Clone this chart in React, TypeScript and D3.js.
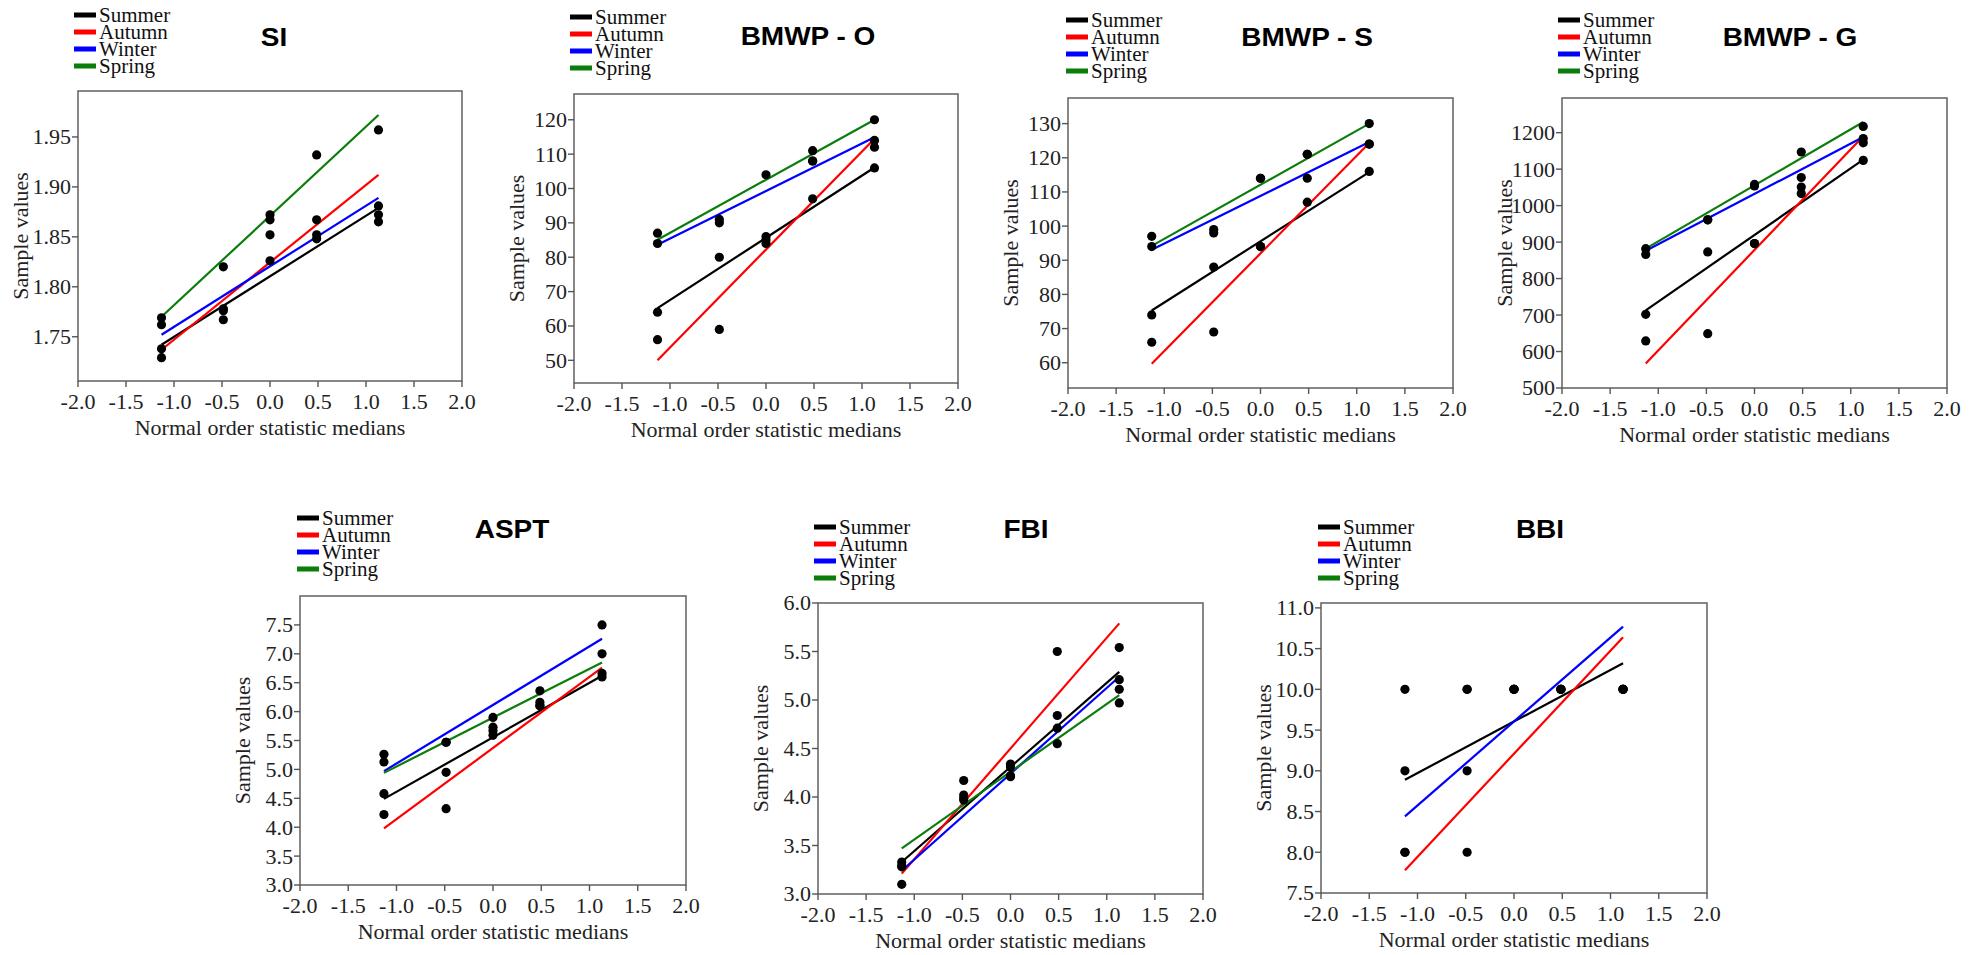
import React from "react";
import * as d3 from "d3";

// ---------- shared data ----------
const SEASONS = ["Summer", "Autumn", "Winter", "Spring"];
const SEASON_COLORS = ["#000000", "#ff0000", "#0000ff", "#0b7d0b"];
const X_MEDIANS = [-1.13, -0.486, 0, 0.486, 1.13];
const X_TICKS = [-2, -1.5, -1, -0.5, 0, 0.5, 1, 1.5, 2];

// ---------- SI ----------
const SI_Y_TICKS = [1.75, 1.8, 1.85, 1.9, 1.95];
const SI_POINTS = [
  [1.769, 1.762, 1.738, 1.729],
  [1.82, 1.778, 1.776, 1.767],
  [1.872, 1.867, 1.852, 1.826],
  [1.932, 1.867, 1.852, 1.848],
  [1.957, 1.881, 1.872, 1.865],
];
const SI_LINES = [[1.742, 1.879], [1.737, 1.912], [1.752, 1.889], [1.77, 1.972]];

// ---------- BMWP - O ----------
const BMWPO_Y_TICKS = [50, 60, 70, 80, 90, 100, 110, 120];
const BMWPO_POINTS = [
  [87, 84, 64, 56],
  [91, 90, 80, 59],
  [104, 86, 85, 84],
  [111, 108, 97, 108],
  [120, 114, 112, 106],
];
const BMWPO_LINES = [[65.2, 106.1], [50, 114.5], [83.6, 114.9], [85.1, 120]];

// ---------- BMWP - S ----------
const BMWPS_Y_TICKS = [60, 70, 80, 90, 100, 110, 120, 130];
const BMWPS_POINTS = [
  [97, 94, 74, 66],
  [99, 98, 88, 69],
  [114, 94, 94, 114],
  [121, 114, 107, 121],
  [130, 124, 116, 124],
];
const BMWPS_LINES = [[75.3, 115.8], [59.7, 124.3], [93.1, 124.6], [94.2, 130]];

// ---------- BMWP - G ----------
const BMWPG_Y_TICKS = [500, 600, 700, 800, 900, 1000, 1100, 1200];
const BMWPG_POINTS = [
  [882, 866, 702, 629],
  [961, 873, 649, 961],
  [1058, 1054, 896, 896],
  [1147, 1077, 1051, 1033],
  [1217, 1184, 1172, 1124],
];
const BMWPG_LINES = [[713, 1126], [567, 1190], [876, 1188], [882, 1229]];

// ---------- ASPT ----------
const ASPT_Y_TICKS = [3.0, 3.5, 4.0, 4.5, 5.0, 5.5, 6.0, 6.5, 7.0, 7.5];
const ASPT_POINTS = [
  [5.26, 5.13, 4.58, 4.22],
  [5.47, 4.95, 4.32, 5.47],
  [5.9, 5.73, 5.67, 5.59],
  [6.36, 6.16, 6.1, 6.1],
  [7.5, 7.0, 6.66, 6.6],
];
const ASPT_LINES = [[4.49, 6.62], [3.98, 6.76], [4.97, 7.26], [4.94, 6.85]];

// ---------- FBI ----------
const FBI_Y_TICKS = [3.0, 3.5, 4.0, 4.5, 5.0, 5.5, 6.0];
const FBI_POINTS = [
  [3.33, 3.29, 3.28, 3.1],
  [4.17, 4.02, 3.99, 3.97],
  [4.34, 4.31, 4.22, 4.21],
  [5.5, 4.84, 4.71, 4.55],
  [5.54, 5.21, 5.11, 4.97],
];
const FBI_LINES = [[3.33, 5.29], [3.21, 5.79], [3.24, 5.24], [3.47, 5.05]];

// ---------- BBI ----------
const BBI_Y_TICKS = [7.5, 8.0, 8.5, 9.0, 9.5, 10.0, 10.5, 11.0];
const BBI_POINTS = [
  [10, 9, 8, 8],
  [10, 9, 8, 10],
  [10, 10, 10, 10],
  [10, 10, 10, 10],
  [10, 10, 10, 10],
];
const BBI_LINES = [[8.89, 10.32], [7.78, 10.64], [8.44, 10.77], null];

const PANELS = [
  { title: "SI", yTicks: SI_Y_TICKS, digits: 2, points: SI_POINTS, lines: SI_LINES, yDomain: [1.7057, 1.996] },
  { title: "BMWP - O", yTicks: BMWPO_Y_TICKS, digits: 0, points: BMWPO_POINTS, lines: BMWPO_LINES, yDomain: [43.4, 127.5] },
  { title: "BMWP - S", yTicks: BMWPS_Y_TICKS, digits: 0, points: BMWPS_POINTS, lines: BMWPS_LINES, yDomain: [52.6, 137.5] },
  { title: "BMWP - G", yTicks: BMWPG_Y_TICKS, digits: 0, points: BMWPG_POINTS, lines: BMWPG_LINES, yDomain: [500, 1295] },
  { title: "ASPT", yTicks: ASPT_Y_TICKS, digits: 1, points: ASPT_POINTS, lines: ASPT_LINES, yDomain: [3, 8] },
  { title: "FBI", yTicks: FBI_Y_TICKS, digits: 1, points: FBI_POINTS, lines: FBI_LINES, yDomain: [3, 6] },
  { title: "BBI", yTicks: BBI_Y_TICKS, digits: 1, points: BBI_POINTS, lines: BBI_LINES, yDomain: [7.5, 11.06] },
];

// layout (pixel positions of plot boxes, legends and titles)
const LAYOUT = [
  { x0: 78, x1: 462, y0: 91, y1: 381, lx: 74, ly: 15, tx: 274, ty: 46 },
  { x0: 574, x1: 958, y0: 94, y1: 383, lx: 570, ly: 17, tx: 808, ty: 45 },
  { x0: 1068, x1: 1453, y0: 98, y1: 388, lx: 1066, ly: 20, tx: 1307, ty: 46 },
  { x0: 1562, x1: 1947, y0: 98, y1: 388, lx: 1558, ly: 20, tx: 1790, ty: 46 },
  { x0: 300, x1: 686, y0: 596, y1: 885, lx: 297, ly: 518, tx: 512, ty: 538 },
  { x0: 818, x1: 1203, y0: 603, y1: 894, lx: 814, ly: 527, tx: 1026, ty: 538 },
  { x0: 1321, x1: 1707, y0: 603, y1: 893, lx: 1318, ly: 527, tx: 1540, ty: 538 },
];

const SERIF = "Liberation Serif, Times New Roman, Times, serif";
const SANS = "Liberation Sans, Arial, Helvetica, sans-serif";

const serif = (size: number) => ({ fontFamily: SERIF, fontSize: size + "px" });

function Panel({ p, L }: { p: any; L: any }) {
  const x = d3.scaleLinear().domain([-2, 2]).range([L.x0, L.x1]);
  const y = d3.scaleLinear().domain(p.yDomain).range([L.y1, L.y0]);
  const line = d3
    .line<number[]>()
    .x((d) => x(d[0]))
    .y((d) => y(d[1]));
  const xFirst = X_MEDIANS[0];
  const xLast = X_MEDIANS[X_MEDIANS.length - 1];
  const cx = (L.x0 + L.x1) / 2;
  const cy = (L.y0 + L.y1) / 2;
  return (
    <g>
      {/* legend */}
      {SEASONS.map((s, i) => (
        <g key={s}>
          <rect x={L.lx} y={L.ly + i * 17 - 2.5} width={22} height={5} fill={SEASON_COLORS[i]} />
          <text x={L.lx + 25} y={L.ly + i * 17 + 7} style={serif(21)} fill="#111">
            {s}
          </text>
        </g>
      ))}
      {/* title */}
      <text
        transform={`translate(${L.tx},${L.ty}) scale(1.12,1)`}
        textAnchor="middle"
        style={{ fontFamily: SANS, fontWeight: 700, fontSize: "25px" }}
        fill="#000"
      >
        {p.title}
      </text>
      {/* frame */}
      <rect x={L.x0} y={L.y0} width={L.x1 - L.x0} height={L.y1 - L.y0} fill="none" stroke="#6a6a6a" strokeWidth={1.6} />
      {/* x ticks */}
      {X_TICKS.map((t) => (
        <g key={"x" + t}>
          <line x1={x(t)} x2={x(t)} y1={L.y1} y2={L.y1 + 6} stroke="#555" strokeWidth={1.4} />
          <text x={x(t)} y={L.y1 + 28} textAnchor="middle" style={serif(22)} fill="#222">
            {t.toFixed(1)}
          </text>
        </g>
      ))}
      {/* y ticks */}
      {p.yTicks.map((t: number) => (
        <g key={"y" + t}>
          <line x1={L.x0 - 6} x2={L.x0} y1={y(t)} y2={y(t)} stroke="#555" strokeWidth={1.4} />
          <text x={L.x0 - 7} y={y(t)} dy="0.34em" textAnchor="end" style={serif(22)} fill="#222">
            {t.toFixed(p.digits)}
          </text>
        </g>
      ))}
      {/* axis titles */}
      <text x={cx} y={L.y1 + 54} textAnchor="middle" style={serif(22)} fill="#222">
        Normal order statistic medians
      </text>
      <text
        transform={`translate(${L.x0 - 50},${cy}) rotate(-90)`}
        textAnchor="middle"
        style={serif(22)}
        fill="#222"
      >
        Sample values
      </text>
      {/* fitted lines */}
      {p.lines.map((ln: number[] | null, i: number) =>
        ln ? (
          <path
            key={"l" + i}
            d={line([[xFirst, ln[0]], [xLast, ln[1]]]) || ""}
            fill="none"
            stroke={SEASON_COLORS[i]}
            strokeWidth={2.2}
          />
        ) : null
      )}
      {/* points */}
      {p.points.map((vals: number[], xi: number) =>
        vals.map((v: number, k: number) => (
          <circle key={"p" + xi + "-" + k} cx={x(X_MEDIANS[xi])} cy={y(v)} r={4.6} fill="#000" />
        ))
      )}
    </g>
  );
}

export default function App() {
  return (
    <svg
      width={1973}
      height={955}
      style={{ position: "absolute", left: 0, top: 0, background: "#fff" }}
    >
      <rect x={0} y={0} width={1973} height={955} fill="#fff" />
      {PANELS.map((p, i) => (
        <Panel key={p.title} p={p} L={LAYOUT[i]} />
      ))}
    </svg>
  );
}
